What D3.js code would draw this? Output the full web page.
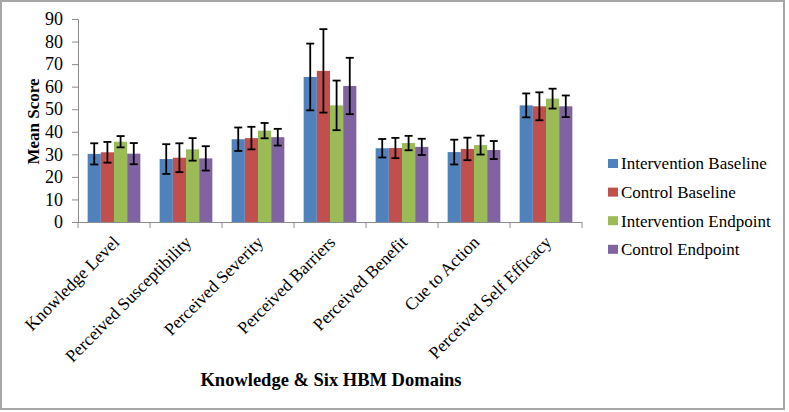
<!DOCTYPE html>
<html>
<head>
<meta charset="utf-8">
<script src="https://cdn.jsdelivr.net/npm/d3@7"></script>
<style>
  body { margin: 0; background: #fff; }
  svg text { font-family: "Liberation Serif", "Times New Roman", serif; fill: #000; }
</style>
</head>
<body>
<svg id="chart"></svg>
<script>
var categories = ["Knowledge Level", "Perceived Susceptibility", "Perceived Severity", "Perceived Barriers",
                  "Perceived Benefit", "Cue to Action", "Perceived Self Efficacy"];
var seriesNames = ["Intervention Baseline", "Control Baseline", "Intervention Endpoint", "Control Endpoint"];
var colors = ["#4F81BD", "#C0504D", "#9BBB59", "#8064A2"];

// mean values, one array per series
var interventionBaseline = [30.2, 27.9, 36.7, 64.3, 32.7, 31.0, 51.7];
var controlBaseline      = [30.9, 28.5, 37.2, 67.0, 32.8, 32.4, 51.3];
var interventionEndpoint = [35.6, 32.2, 40.5, 51.7, 35.0, 34.1, 54.7];
var controlEndpoint      = [30.3, 28.2, 37.6, 60.3, 33.3, 31.9, 51.3];

// error bar half-widths (SD)
var interventionBaselineSD = [4.7, 6.6, 5.2, 14.8, 4.1, 5.5, 5.3];
var controlBaselineSD      = [4.6, 6.4, 5.0, 18.5, 4.5, 5.0, 6.2];
var interventionEndpointSD = [2.5, 5.0, 3.4, 11.0, 3.2, 4.2, 4.4];
var controlEndpointSD      = [4.7, 5.4, 3.7, 12.5, 3.6, 4.0, 4.8];

var yTicks = [0, 10, 20, 30, 40, 50, 60, 70, 80, 90];

var width = 789, height = 412;
var plotLeft = 78, plotRight = 582, plotTop = 19, plotBottom = 222;

var means = [interventionBaseline, controlBaseline, interventionEndpoint, controlEndpoint];
var sds = [interventionBaselineSD, controlBaselineSD, interventionEndpointSD, controlEndpointSD];

var svg = d3.select("#chart").attr("width", width).attr("height", height);

// outer frame
svg.append("rect")
  .attr("x", 1).attr("y", 1)
  .attr("width", 783).attr("height", 408)
  .attr("fill", "none")
  .attr("stroke", "#a6a6a6")
  .attr("stroke-width", 2);

var x0 = d3.scaleBand().domain(categories).range([plotLeft, plotRight])
  .paddingInner(0.268).paddingOuter(0.134);
var x1 = d3.scaleBand().domain(seriesNames).range([0, x0.bandwidth()]);
var y = d3.scaleLinear().domain([0, 90]).range([plotBottom, plotTop]);

// flatten data
var rows = [];
categories.forEach(function(c, i) {
  seriesNames.forEach(function(s, j) {
    rows.push({cat: c, series: s, idx: j, mean: means[j][i], sd: sds[j][i]});
  });
});

// bars
svg.append("g").selectAll("rect")
  .data(rows)
  .enter().append("rect")
  .attr("x", function(d) { return x0(d.cat) + x1(d.series); })
  .attr("y", function(d) { return y(d.mean); })
  .attr("width", x1.bandwidth())
  .attr("height", function(d) { return y(0) - y(d.mean); })
  .attr("fill", function(d) { return colors[d.idx]; });

// error bars
var eb = svg.append("g").attr("stroke", "#000").attr("stroke-width", 1.8);
rows.forEach(function(d) {
  var cx = x0(d.cat) + x1(d.series) + x1.bandwidth() / 2;
  var hi = y(d.mean + d.sd), lo = y(d.mean - d.sd);
  eb.append("line").attr("x1", cx).attr("x2", cx).attr("y1", hi).attr("y2", lo);
  eb.append("line").attr("x1", cx - 4).attr("x2", cx + 4).attr("y1", hi).attr("y2", hi);
  eb.append("line").attr("x1", cx - 4).attr("x2", cx + 4).attr("y1", lo).attr("y2", lo);
});

// y axis
var yAxis = svg.append("g")
  .attr("transform", "translate(" + plotLeft + ",0)")
  .call(d3.axisLeft(y).tickValues(yTicks).tickSize(6).tickPadding(9).tickFormat(d3.format("d")));
yAxis.select(".domain").attr("stroke", "#8c8c8c");
yAxis.selectAll(".tick line").attr("stroke", "#8c8c8c");
yAxis.selectAll("text").style("font-size", "18px").attr("fill", "#000")
  .style("font-family", '"Liberation Serif", serif');

// x axis: ticks at category boundaries
var xg = svg.append("g");
xg.append("line").attr("x1", plotLeft).attr("x2", plotRight).attr("y1", plotBottom + 0.5).attr("y2", plotBottom + 0.5)
  .attr("stroke", "#8c8c8c");
var step = x0.step();
d3.range(categories.length + 1).forEach(function(i) {
  var tx = plotLeft + i * step;
  xg.append("line").attr("x1", tx).attr("x2", tx).attr("y1", plotBottom).attr("y2", plotBottom + 6)
    .attr("stroke", "#8c8c8c");
});
xg.selectAll("text.cat")
  .data(categories)
  .enter().append("text")
  .attr("class", "cat")
  .attr("transform", function(d) {
    return "translate(" + (x0(d) + x0.bandwidth() / 2 + 2) + "," + (plotBottom + 17) + ") rotate(-45)";
  })
  .attr("text-anchor", "end")
  .attr("dy", "0.35em")
  .style("font-size", "17.5px")
  .text(function(d) { return d; });

// axis titles
svg.append("text")
  .attr("transform", "translate(39," + ((plotTop + plotBottom) / 2 + 1) + ") rotate(-90)")
  .attr("text-anchor", "middle")
  .style("font-size", "17px").style("font-weight", "bold")
  .text("Mean Score");

svg.append("text")
  .attr("x", 331).attr("y", 386)
  .attr("text-anchor", "middle")
  .style("font-size", "18.5px").style("font-weight", "bold")
  .text("Knowledge & Six HBM Domains");

// legend
var legend = svg.selectAll(".legend")
  .data(seriesNames)
  .enter().append("g")
  .attr("class", "legend")
  .attr("transform", function(d, i) { return "translate(608," + (163.5 + i * 28.6) + ")"; });

legend.append("rect")
  .attr("x", 0).attr("y", -4.5)
  .attr("width", 10).attr("height", 9)
  .attr("fill", function(d, i) { return colors[i]; });

legend.append("text")
  .attr("x", 13).attr("y", 0)
  .attr("dy", "0.35em")
  .style("font-size", "17px")
  .text(function(d) { return d; });
</script>
</body>
</html>
